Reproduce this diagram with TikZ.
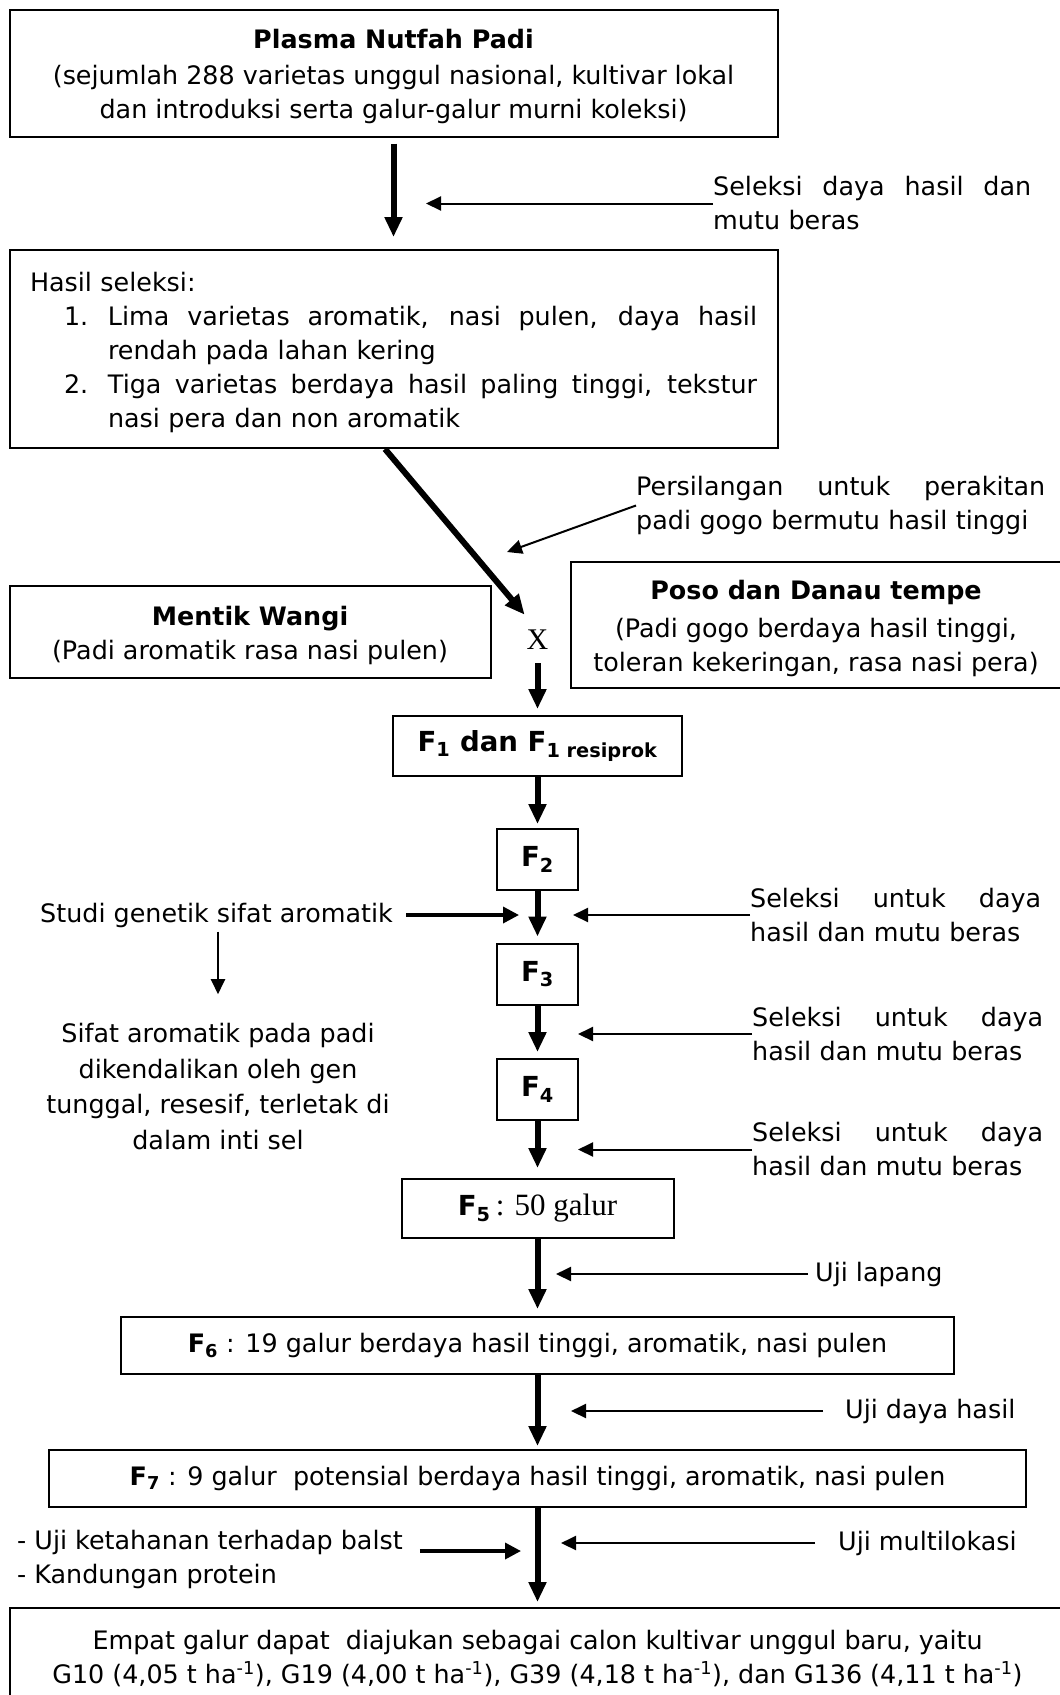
\documentclass[tikz,border=0pt]{standalone}
\usepackage{fontspec}
\setmainfont{DejaVu Sans}
\newfontfamily\timesfont{Liberation Serif}
\usepackage{tikz}
\usetikzlibrary{arrows.meta, positioning, calc}
\newcommand{\bodyfont}{\fontsize{25.4pt}{34pt}\selectfont}
\newcommand{\genfont}{\fontsize{27.6pt}{30pt}\selectfont\bfseries}
\newcommand{\jline}[2]{\makebox[#1][s]{\spaceskip=.3em plus 1fil\relax #2}}
\newcommand{\topgap}{\rule{0pt}{27pt}}
\newcommand{\perha}{t ha\textsuperscript{-1}}
\tikzset{
  stage/.style={draw, line width=2pt, inner sep=0pt, align=center, font=\bodyfont},
  note/.style={inner sep=0pt, align=left, font=\bodyfont},
  flow/.style={-{Triangle[width=17pt,length=20pt]}, line width=6pt},
  feed/.style={-{Triangle[width=14pt,length=15pt]}, line width=2pt},
  feedbold/.style={-{Triangle[width=16pt,length=16pt]}, line width=3.5pt}
}

\begin{document}
\begin{tikzpicture}[x=1pt, y=-1pt]
  \useasboundingbox (0,0) rectangle (1060,1695);
  % top: germplasm and first selection
  \node[stage, minimum width=768, minimum height=127] (plasma) at (393.5,73)
    {\topgap\textbf{Plasma Nutfah Padi}\\[2pt](sejumlah 288 varietas unggul nasional, kultivar lokal\\dan introduksi serta galur-galur murni koleksi)};
  \node[stage, minimum width=768, minimum height=198, text width=727, align=left] (hasil) at (393.5,349)
    {\topgap Hasil seleksi:\\
     \hspace*{34pt}\makebox[44pt][l]{1.}\jline{649pt}{Lima varietas aromatik, nasi pulen, daya hasil}\\
     \hspace*{78pt}rendah pada lahan kering\\
     \hspace*{34pt}\makebox[44pt][l]{2.}\jline{649pt}{Tiga varietas berdaya hasil paling tinggi, tekstur}\\
     \hspace*{78pt}nasi pera dan non aromatik};
  \node[note, text width=318, anchor=west] (selA) at (713,203.5)
    {\jline{318pt}{Seleksi daya hasil dan}\\mutu beras};
  \coordinate (selAtip) at (426,203.5);

  \draw[flow, shorten <=6pt, shorten >=12pt] (plasma) -- (hasil);
  \draw[feed] (selA.west) -- (selAtip);

  % crossing
  \node[stage, minimum width=481, minimum height=91.5] (mentik) at (250,631.75)
    {\topgap\textbf{Mentik Wangi}\\(Padi aromatik rasa nasi pulen)};
  \node[stage, minimum width=490, minimum height=126] (poso) at (816,625)
    {\topgap\textbf{Poso dan Danau tempe}\\[4pt](Padi gogo berdaya hasil tinggi,\\toleran kekeringan, rasa nasi pera)};
  \node[inner sep=0pt, font=\timesfont\fontsize{30pt}{30pt}\selectfont] (cross) at (537.5,640) {X};
  \node[note, text width=409, anchor=west] (persil) at (636,505.5)
    {\jline{409pt}{Persilangan untuk perakitan}\\padi gogo bermutu hasil tinggi};
  \coordinate (persiltip) at (507,552);
  \coordinate (dstart) at (385,449);

  \draw[flow, shorten >=20pt] (dstart) -- (cross.north);
  \draw[feed] (persil.west) -- (persiltip);

  % generations
  \node[stage, minimum width=288.5, minimum height=60] (f1) at (537.5,746)
    {\genfont F\textsubscript{1} dan F\textsubscript{1 resiprok}};
  \node[stage, minimum width=81, minimum height=61] (f2) at (537.5,859.5) {\genfont F\textsubscript{2}};
  \node[stage, minimum width=81, minimum height=61] (f3) at (537.5,974) {\genfont F\textsubscript{3}};
  \node[stage, minimum width=81, minimum height=61] (f4) at (537.5,1089.5) {\genfont F\textsubscript{4}};
  \node[stage, minimum width=272, minimum height=59] (f5) at (537.5,1208.5)
    {{\genfont F\textsubscript{5}}{\timesfont\fontsize{31pt}{31pt}\selectfont\,: 50 galur}};
  \node[stage, minimum width=833, minimum height=57] (f6) at (537.5,1345.5)
    {\textbf{F\textsubscript{6}} : 19 galur berdaya hasil tinggi, aromatik, nasi pulen};
  \node[stage, minimum width=977, minimum height=57] (f7) at (537.5,1478.5)
    {\textbf{F\textsubscript{7}} : 9 galur\ \ potensial berdaya hasil tinggi, aromatik, nasi pulen};
  \node[stage, minimum width=1056, minimum height=103] (final) at (537.5,1659)
    {Empat galur dapat\ \ diajukan sebagai calon kultivar unggul baru, yaitu\\
     G10 (4,05 \perha), G19 (4,00 \perha), G39 (4,18 \perha), dan G136 (4,11 \perha)};

  \draw[flow, shorten <=13pt, shorten >=6pt] (cross.south) -- (f1.north);
  \draw[flow, shorten >=4pt] (f1) -- (f2);
  \draw[flow, shorten >=6pt] (f2) -- (f3);
  \draw[flow, shorten >=6pt] (f3) -- (f4);
  \draw[flow, shorten >=10pt] (f4) -- (f5);
  \draw[flow, shorten >=7pt] (f5) -- (f6);
  \draw[flow, shorten >=3pt] (f6) -- (f7);
  \draw[flow, shorten >=4.5pt] (f7) -- (final);

  % right side: selection steps
  \node[note, text width=291, anchor=west] (selF2) at (750,915)
    {\jline{291pt}{Seleksi untuk daya}\\hasil dan mutu beras};
  \node[note, text width=291, anchor=west] (selF3) at (752,1034)
    {\jline{291pt}{Seleksi untuk daya}\\hasil dan mutu beras};
  \node[note, text width=291, anchor=west] (selF4) at (752,1149.5)
    {\jline{291pt}{Seleksi untuk daya}\\hasil dan mutu beras};
  \node[note, anchor=west] (lapang) at (815,1274) {Uji lapang};
  \node[note, anchor=west] (dayahasil) at (845,1411) {Uji daya hasil};
  \node[note, anchor=west] (multi) at (838,1543) {Uji multilokasi};
  \coordinate (tipF2) at (573,915);
  \coordinate (tipF3) at (578,1034);
  \coordinate (tipF4) at (578,1149.5);
  \coordinate (tipF5) at (556,1274);
  \coordinate (tipF6) at (571,1411);
  \coordinate (tipF7) at (561,1543);

  \draw[feed] (selF2.west) -- (tipF2);
  \draw[feed] (selF3.west) -- (tipF3);
  \draw[feed] (selF4.west) -- (tipF4);
  \draw[feed, shorten <=7pt] (lapang.west) -- (tipF5);
  \draw[feed, shorten <=22pt] (dayahasil.west) -- (tipF6);
  \draw[feed, shorten <=23pt] (multi.west) -- (tipF7);

  % left side: genetic study and extra tests
  \node[note, anchor=east] (studi) at (393,915) {Studi genetik sifat aromatik};
  \node[note, align=center, font=\fontsize{25.4pt}{35.5pt}\selectfont] (sifat) at (218,1086.5)
    {Sifat aromatik pada padi\\dikendalikan oleh gen\\tunggal, resesif, terletak di\\dalam inti sel};
  \node[note, anchor=west] (ujiket) at (17,1559.5)
    {- Uji ketahanan terhadap balst\\- Kandungan protein};
  \coordinate (studitip) at (519,915);
  \coordinate (ujitip) at (521,1551);

  \draw[feedbold, shorten <=13pt] (studi.east) -- (studitip);
  \draw[feed, shorten <=4pt, shorten >=29pt] (studi.south -| sifat.north) -- (sifat.north);
  \draw[feedbold, shorten <=17pt] (ujiket.east |- ujitip) -- (ujitip);
\end{tikzpicture}
\end{document}
